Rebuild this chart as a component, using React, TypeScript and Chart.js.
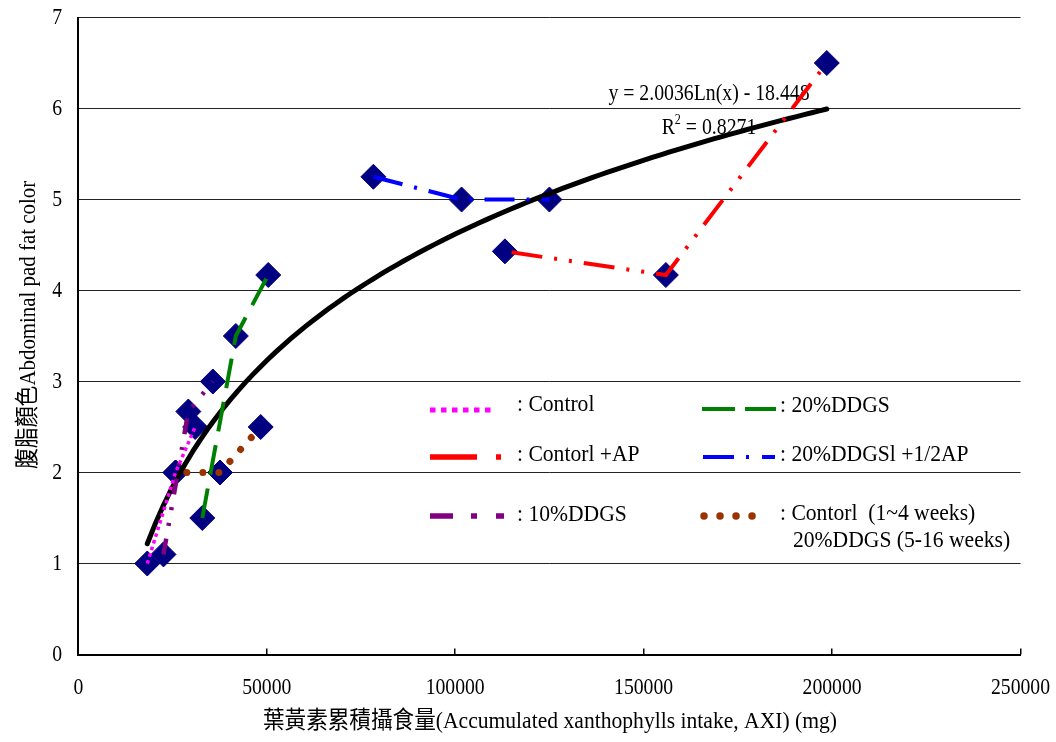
import React, { useEffect, useRef } from 'react';
import { Chart, registerables } from 'chart.js';

Chart.register(...registerables);

// ---------- data ----------
const X_TICKS = [0, 50000, 100000, 150000, 200000, 250000];
const Y_TICKS = [0, 1, 2, 3, 4, 5, 6, 7];

const CONTROL_X = [18300, 25800, 31000];
const CONTROL_Y = [1.0, 2.0, 2.5];

const CONTROL_AP_X = [113200, 155900, 198600];
const CONTROL_AP_Y = [4.43, 4.17, 6.5];

const DDGS10_X = [22600, 29200, 35700];
const DDGS10_Y = [1.1, 2.67, 3.0];

const DDGS20_X = [32900, 41800, 50400];
const DDGS20_Y = [1.5, 3.5, 4.17];

const DDGS20_HALF_AP_X = [78300, 101700, 125000];
const DDGS20_HALF_AP_Y = [5.25, 5.0, 5.0];

const SWITCH_X = [25800, 37600, 48400];
const SWITCH_Y = [2.0, 2.0, 2.5];

// logarithmic trendline shown on the chart: y = A ln(x) + B
const TREND_A = 2.0036;
const TREND_B = -18.448;
const TREND_R2 = 0.8271;
const TREND_X_MIN = 18300;
const TREND_X_MAX = 198600;
const TREND_STEPS = 90;

const LABEL_CONTROL = ': Control';
const LABEL_CONTROL_AP = ': Contorl +AP';
const LABEL_DDGS10 = ': 10%DDGS';
const LABEL_DDGS20 = ': 20%DDGS';
const LABEL_DDGS20_AP = ': 20%DDGSl +1/2AP';
const LABEL_SWITCH_1 = ': Contorl  (1~4 weeks)';
const LABEL_SWITCH_2 = '20%DDGS (5-16 weeks)';

const X_TITLE = '葉黃素累積攝食量(Accumulated xanthophylls intake, AXI) (mg)';
const Y_TITLE = '腹脂顏色Abdominal pad fat color';

// ---------- styles ----------
const MAGENTA = '#FF00FF';
const RED = '#FF0000';
const PURPLE = '#800080';
const GREEN = '#008000';
const BLUE = '#0000FF';
const BROWN = '#993300';
const NAVY = '#000080';

const FONT = "'Liberation Serif', 'Noto Sans CJK TC', 'Noto Sans CJK SC', serif";

const pts = (xs: number[], ys: number[]) => xs.map((x, i) => ({ x, y: ys[i] }));

function txt(
  ctx: CanvasRenderingContext2D,
  s: string,
  x: number,
  y: number,
  size: number,
  sx: number,
  align: CanvasTextAlign,
  rot = 0
) {
  ctx.save();
  ctx.translate(x, y);
  if (rot) ctx.rotate(rot);
  ctx.scale(sx, 1);
  ctx.font = `${size}px ${FONT}`;
  ctx.textAlign = align;
  ctx.textBaseline = 'middle';
  ctx.fillStyle = '#000';
  ctx.fillText(s, 0, 0);
  ctx.restore();
}

function sample(
  ctx: CanvasRenderingContext2D,
  color: string,
  width: number,
  dash: number[],
  x0: number,
  x1: number,
  y: number,
  cap: CanvasLineCap = 'butt'
) {
  ctx.save();
  ctx.strokeStyle = color;
  ctx.lineWidth = width;
  ctx.lineCap = cap;
  ctx.setLineDash(dash);
  ctx.beginPath();
  ctx.moveTo(x0, y);
  ctx.lineTo(x1, y);
  ctx.stroke();
  ctx.restore();
}

const decorPlugin = {
  id: 'decor',
  beforeDatasetsDraw(chart: any) {
    const ctx: CanvasRenderingContext2D = chart.ctx;
    // legend (drawn inside plot area, no background)
    const LS = 24;
    const LX = 0.9;
    sample(ctx, MAGENTA, 5, [5.5, 5.5], 430, 495, 410);
    txt(ctx, LABEL_CONTROL, 517, 405, LS, LX, 'left');
    sample(ctx, RED, 5.5, [47, 19, 5, 100], 430, 501, 457);
    txt(ctx, LABEL_CONTROL_AP, 517, 455, LS, LX, 'left');
    sample(ctx, PURPLE, 5.5, [23, 18, 6, 19, 8, 100], 430, 504, 516);
    txt(ctx, LABEL_DDGS10, 517, 515, LS, LX, 'left');
    sample(ctx, GREEN, 4, [33, 10], 702, 776, 409);
    txt(ctx, LABEL_DDGS20, 780, 406, LS, LX, 'left');
    sample(ctx, BLUE, 4, [31, 12, 3, 13], 703, 775, 457);
    txt(ctx, LABEL_DDGS20_AP, 780, 455, LS, LX, 'left');
    sample(ctx, BROWN, 7.5, [0.01, 16], 704, 753, 516, 'round');
    txt(ctx, LABEL_SWITCH_1, 780, 514, LS, LX, 'left');
    txt(ctx, LABEL_SWITCH_2, 793, 541, LS, LX, 'left');

    // trendline equation
    const eq = `y = ${TREND_A.toFixed(4)}Ln(x) - ${Math.abs(TREND_B).toFixed(3)}`;
    txt(ctx, eq, 709, 94, 23, 0.86, 'center');
    // R^2 line
    ctx.save();
    ctx.translate(709, 128);
    ctx.scale(0.86, 1);
    ctx.fillStyle = '#000';
    ctx.textBaseline = 'middle';
    ctx.font = `23px ${FONT}`;
    const wR = ctx.measureText('R').width;
    const rest = ` = ${TREND_R2}`;
    const wRest = ctx.measureText(rest).width;
    ctx.font = `14px ${FONT}`;
    const w2 = ctx.measureText('2').width;
    const total = wR + w2 + wRest;
    let cx = -total / 2;
    ctx.textAlign = 'left';
    ctx.font = `23px ${FONT}`;
    ctx.fillText('R', cx, 0);
    cx += wR;
    ctx.font = `14px ${FONT}`;
    ctx.fillText('2', cx, -8);
    cx += w2;
    ctx.font = `23px ${FONT}`;
    ctx.fillText(rest, cx, 0);
    ctx.restore();
  },
  afterDraw(chart: any) {
    const ctx: CanvasRenderingContext2D = chart.ctx;
    const xs = chart.scales.x;
    const ys = chart.scales.y;
    const bottom = chart.chartArea.bottom;
    // inside tick marks on x axis
    ctx.save();
    ctx.strokeStyle = '#000';
    ctx.lineWidth = 1.5;
    X_TICKS.forEach((v) => {
      if (v === 0) return;
      const px = Math.round(xs.getPixelForValue(v)) - 0.25;
      ctx.beginPath();
      ctx.moveTo(px, bottom);
      ctx.lineTo(px, bottom - 6);
      ctx.stroke();
    });
    ctx.restore();
    // tick labels
    X_TICKS.forEach((v) => txt(ctx, String(v), xs.getPixelForValue(v), 688, 24, 0.82, 'center'));
    Y_TICKS.forEach((v) => txt(ctx, String(v), 62, ys.getPixelForValue(v), 24, 0.82, 'right'));
    // axis titles
    txt(ctx, X_TITLE, 550, 722, 24, 0.9, 'center');
    txt(ctx, Y_TITLE, 29, 325, 24, 0.87, 'center', -Math.PI / 2);
  },
};

export default function App() {
  const ref = useRef<HTMLCanvasElement>(null);

  useEffect(() => {
    const trend: { x: number; y: number }[] = [];
    for (let i = 0; i <= TREND_STEPS; i++) {
      const x = TREND_X_MIN + ((TREND_X_MAX - TREND_X_MIN) * i) / TREND_STEPS;
      trend.push({ x, y: TREND_A * Math.log(x) + TREND_B });
    }
    const line = (data: any[], color: string, width: number, dash: number[], order: number, extra: any = {}) => ({
      data,
      showLine: true,
      borderColor: color,
      backgroundColor: color,
      borderWidth: width,
      borderDash: dash,
      pointRadius: 0,
      pointHoverRadius: 0,
      tension: 0,
      fill: false,
      order,
      ...extra,
    });
    const all = [
      ...pts(CONTROL_X, CONTROL_Y),
      ...pts(CONTROL_AP_X, CONTROL_AP_Y),
      ...pts(DDGS10_X, DDGS10_Y),
      ...pts(DDGS20_X, DDGS20_Y),
      ...pts(DDGS20_HALF_AP_X, DDGS20_HALF_AP_Y),
      ...pts(SWITCH_X, SWITCH_Y),
    ];
    const chart = new Chart(ref.current as HTMLCanvasElement, {
      type: 'scatter',
      data: {
        datasets: [
          line(pts(CONTROL_X, CONTROL_Y), MAGENTA, 3.5, [3.5, 3.5], 1),
          line(pts(CONTROL_AP_X, CONTROL_AP_Y), RED, 4, [31, 12, 3, 12, 3, 12], 2, { borderDashOffset: 66.3 }),
          line(pts(DDGS10_X, DDGS10_Y), PURPLE, 4.5, [16, 13, 3, 13, 3, 13], 3),
          line(pts(DDGS20_X, DDGS20_Y), GREEN, 4, [30, 14], 4),
          line(pts(DDGS20_HALF_AP_X, DDGS20_HALF_AP_Y), BLUE, 4, [30, 12, 3, 12], 5),
          line(pts(SWITCH_X, SWITCH_Y), BROWN, 7, [0.01, 16], 6, { borderCapStyle: 'round', borderDashOffset: 4.7 }),
          line(trend, '#000', 5, [], 8, { borderCapStyle: 'round', borderJoinStyle: 'round' }),
          {
            data: all,
            showLine: false,
            pointStyle: 'rectRot',
            pointRadius: 12.5,
            pointHoverRadius: 12.5,
            backgroundColor: NAVY,
            borderColor: NAVY,
            borderWidth: 1,
            order: 10,
          },
        ],
      } as any,
      options: {
        animation: false,
        responsive: false,
        events: [],
        layout: { padding: { left: 0, top: 17.5, right: 35.5, bottom: 0 } },
        plugins: { legend: { display: false }, tooltip: { enabled: false }, title: { display: false } },
        scales: {
          x: {
            type: 'linear',
            min: 0,
            max: 250000,
            afterBuildTicks: (s: any) => {
              s.ticks = X_TICKS.map((v) => ({ value: v }));
            },
            ticks: { display: false },
            grid: { display: false },
            border: { display: true, color: '#000', width: 2 },
            afterFit: (s: any) => {
              s.height = 87.5;
            },
          },
          y: {
            type: 'linear',
            min: 0,
            max: 7,
            afterBuildTicks: (s: any) => {
              s.ticks = Y_TICKS.map((v) => ({ value: v }));
            },
            ticks: { display: false },
            grid: { color: '#222', lineWidth: 1, drawTicks: false },
            border: { display: true, color: '#000', width: 2 },
            afterFit: (s: any) => {
              s.width = 78.3;
            },
          },
        },
      } as any,
      plugins: [decorPlugin],
    });
    return () => chart.destroy();
  }, []);

  return (
    <div style={{ position: 'absolute', left: 0, top: 0, width: 1056, height: 742, background: '#fff' }}>
      <canvas ref={ref} width={1056} height={742} style={{ display: 'block' }} />
    </div>
  );
}
